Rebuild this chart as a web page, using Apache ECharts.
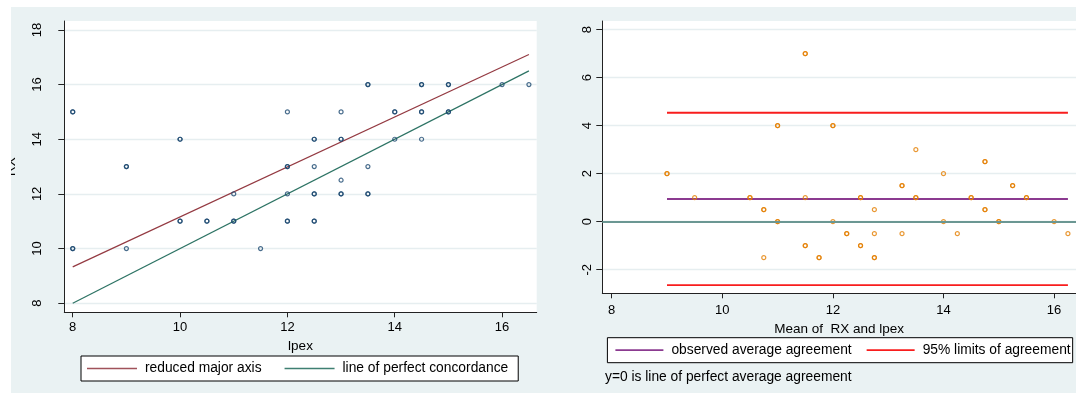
<!DOCTYPE html>
<html><head><meta charset="utf-8">
<script src="https://cdn.jsdelivr.net/npm/echarts@6/dist/echarts.min.js"></script>
<style>
html,body{margin:0;padding:0;background:#fff;}
#bg{position:absolute;left:11px;top:7px;width:1065px;height:386px;background:#eaf2f3;}
#chart{position:absolute;left:0;top:0;width:1076px;height:394px;}
</style></head><body>
<div id="bg"></div><div id="chart"></div>
<script>
// ---- data ----
const ipex = [8,8,8,8,9,9,9,10,10,10,10,10.5,10.5,11,11,11,11.5,12,12,12,12,12,12,12.5,12.5,12.5,12.5,12.5,12.5,12.5,13,13,13,13,13,13,13.5,13.5,13.5,13.5,13.5,14,14,14,14.5,14.5,14.5,14.5,14.5,15,15,15,15,16,16.5];
const rx   = [15,15,10,10,13,13,10,14,14,11,11,11,11,12,11,11,10,15,13,13,12,11,11,14,14,13,12,12,11,11,15,14,14,12.5,12,12,16,16,13,12,12,15,15,14,16,16,15,15,14,16,16,15,15,16,16];
const rmaX = [8, 16.5];
const rmaY = [9.33, 17.1];
const concX = [8, 16.5];
const concY = [8, 16.5];

const baMean = [11.5,11.5,9,9,11,11,9.5,12,12,10.5,10.5,10.75,10.75,11.5,11,11,10.75,13.5,12.5,12.5,12,11.5,11.5,13.25,13.25,12.75,12.25,12.25,11.75,11.75,14,13.5,13.5,12.75,12.5,12.5,14.75,14.75,13.25,12.75,12.75,14.5,14.5,14,15.25,15.25,14.75,14.75,14.25,15.5,15.5,15,15,16,16.25];
const baDiff = [7,7,2,2,4,4,1,4,4,1,1,0.5,0.5,1,0,0,-1.5,3,1,1,0,-1,-1,1.5,1.5,0.5,-0.5,-0.5,-1.5,-1.5,2,1,1,-0.5,-1,-1,2.5,2.5,-0.5,-1.5,-1.5,1,1,0,1.5,1.5,0.5,0.5,-0.5,1,1,0,0,0,-0.5];
const agreeX = [9, 16.25];
const meanDiff = [0.946, 0.946];
const upperLoA = [4.54, 4.54];
const lowerLoA = [-2.64, -2.64];

const leftXTicks = [8,10,12,14,16];
const leftYTicks = [8,10,12,14,16,18];
const rightXTicks = [8,10,12,14,16];
const rightYTicks = [-2,0,2,4,6,8];

// ---- chart ----
const FONT = 'Liberation Sans, Arial, sans-serif';
const pairs = (a,b) => a.map((v,i)=>[v,b[i]]);
const axLine = {show:true, onZero:false, lineStyle:{color:'#222', width:1}};
const tickStyle = {color:'#222', width:1};
const lbl = (vals, margin, rot) => ({customValues: vals, margin: margin, rotate: rot||0, fontSize:13, color:'#000', fontFamily:FONT});
const split = {show:true, lineStyle:{color:'#e6eef0', width:1.3}};

const chart = echarts.init(document.getElementById('chart'), null, {renderer:'canvas'});
chart.setOption({
  backgroundColor:'transparent',
  animation:false,
  grid:[
    {left:64.3, top:21, width:472.4, height:291.3, show:true, backgroundColor:'#fff', borderWidth:0},
    {left:602.3, top:21, width:473.7, height:272.3, show:true, backgroundColor:'#fff', borderWidth:0}
  ],
  xAxis:[
    {gridIndex:0, type:'value', min:7.843, max:16.645, name:'lpex', nameLocation:'middle', nameGap:19,
     nameTextStyle:{fontSize:13.5, color:'#000', fontFamily:FONT},
     axisLine:axLine, axisTick:{show:true, length:5, customValues:leftXTicks, lineStyle:tickStyle},
     axisLabel:lbl(leftXTicks, 9), splitLine:{show:false}},
    {gridIndex:1, type:'value', min:7.83, max:16.396, name:'Mean of  RX and lpex', nameLocation:'middle', nameGap:18.5,
     nameTextStyle:{fontSize:13.5, color:'#000', fontFamily:FONT},
     axisLine:axLine, axisTick:{show:true, length:5, customValues:rightXTicks, lineStyle:tickStyle},
     axisLabel:lbl(rightXTicks, 11), splitLine:{show:false}}
  ],
  yAxis:[
    {gridIndex:0, type:'value', min:7.667, max:18.326, name:'RX', nameLocation:'middle', nameGap:46,
     nameTextStyle:{fontSize:13.5, color:'#000', fontFamily:FONT},
     axisLine:axLine, axisTick:{show:true, length:6, customValues:leftYTicks, lineStyle:tickStyle},
     axisLabel:lbl(leftYTicks, 20, 90), splitLine:split},
    {gridIndex:1, type:'value', min:-2.983, max:8.363,
     axisLine:axLine, axisTick:{show:true, length:6, customValues:rightYTicks, lineStyle:tickStyle},
     axisLabel:lbl(rightYTicks, 8, 90), splitLine:split}
  ],
  legend:[
    {data:['reduced major axis','line of perfect concordance'], left:81, top:356, orient:'horizontal',
     icon:'rect', itemWidth:50, itemHeight:1.5, itemGap:23, padding:[5.5,10,5.5,6], borderColor:'#000', borderWidth:1,
     backgroundColor:'#fff', selectedMode:false,
     textStyle:{fontFamily:FONT, fontSize:13.8, color:'#000', padding:[0,0,0,3]}},
    {data:['observed average agreement','95% limits of agreement'], left:607.4, top:337.7, orient:'horizontal',
     icon:'rect', itemWidth:48, itemHeight:1.8, itemGap:15, padding:[5.5,2,5.5,8], borderColor:'#000', borderWidth:1,
     backgroundColor:'#fff', selectedMode:false,
     textStyle:{fontFamily:FONT, fontSize:13.8, color:'#000', padding:[0,0,0,3]}}
  ],
  graphic:[
    {type:'rect', shape:{x:0, y:0, width:11, height:394}, style:{fill:'#fff'}, z:100, silent:true},
    {type:'text', z:100, silent:true, style:{x:605, y:377, text:'y=0 is line of perfect average agreement',
      fontSize:13.8, fontFamily:FONT, fill:'#000', verticalAlign:'middle', textVerticalAlign:'middle'}}
  ],
  series:[
    {name:'RX', type:'scatter', xAxisIndex:0, yAxisIndex:0, data:pairs(ipex, rx), symbol:'circle', symbolSize:4,
     itemStyle:{color:'rgba(255,255,255,0)', borderColor:'#1a476f', borderWidth:1.2}, z:3, silent:true},
    {name:'reduced major axis', type:'line', xAxisIndex:0, yAxisIndex:0, data:pairs(rmaX, rmaY), symbol:'none',
     lineStyle:{color:'#943a42', width:1.2}, itemStyle:{color:'#a0525a'}, z:2, silent:true},
    {name:'line of perfect concordance', type:'line', xAxisIndex:0, yAxisIndex:0, data:pairs(concX, concY), symbol:'none',
     lineStyle:{color:'#2d7364', width:1.2}, itemStyle:{color:'#3f7f72'}, z:2, silent:true},
    {name:'Difference', type:'scatter', xAxisIndex:1, yAxisIndex:1, data:pairs(baMean, baDiff), symbol:'circle', symbolSize:4,
     itemStyle:{color:'rgba(255,255,255,0)', borderColor:'#e37e00', borderWidth:1.2}, z:3, silent:true},
    {name:'observed average agreement', type:'line', xAxisIndex:1, yAxisIndex:1, data:pairs(agreeX, meanDiff), symbol:'none',
     lineStyle:{color:'#8b3a90', width:2}, itemStyle:{color:'#8b3a90'}, z:2, silent:true,
     markLine:{silent:true, symbol:'none', label:{show:false}, lineStyle:{color:'#6b9793', width:2.2, type:'solid'}, data:[{yAxis:0}]}},
    {name:'95% limits of agreement', type:'line', xAxisIndex:1, yAxisIndex:1, data:pairs(agreeX, upperLoA), symbol:'none',
     lineStyle:{color:'#f81d1d', width:1.8}, itemStyle:{color:'#f81d1d'}, z:2, silent:true},
    {name:'95% limits of agreement', type:'line', xAxisIndex:1, yAxisIndex:1, data:pairs(agreeX, lowerLoA), symbol:'none',
     lineStyle:{color:'#f81d1d', width:1.8}, itemStyle:{color:'#f81d1d'}, z:2, silent:true}
  ]
});
</script></body></html>
